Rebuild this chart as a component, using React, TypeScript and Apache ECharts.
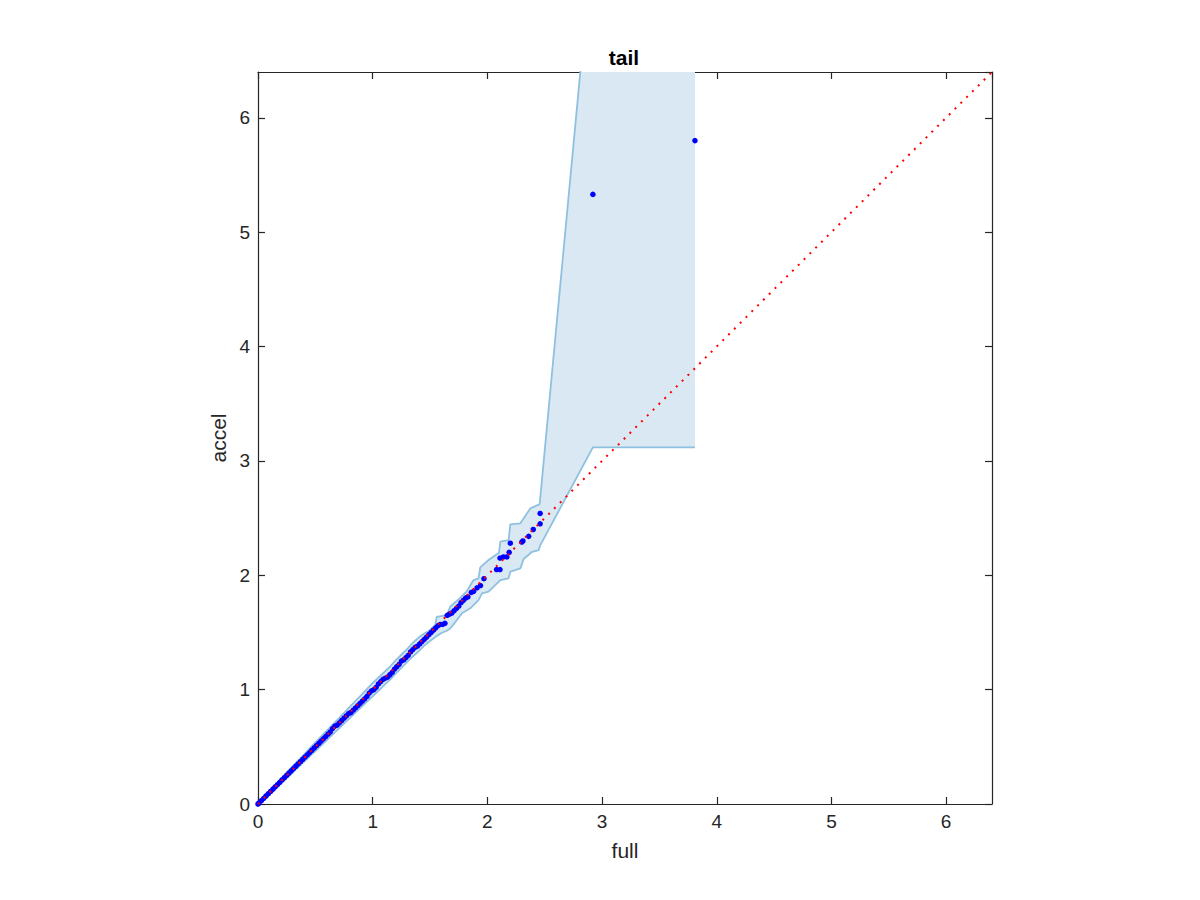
import React, { useEffect, useRef } from "react";
import * as echarts from "echarts";

const titleText = "tail";
const xName = "full";
const yName = "accel";
const axisMax = 6.4;
const tickStep = 1;

// Quantile pairs (full, accel)
const fullQ = [
  0, 0.01, 0.03, 0.05, 0.07, 0.09, 0.11, 0.13, 0.15, 0.17, 0.19, 0.21, 0.23, 0.25, 0.27, 0.29,
  0.31, 0.33, 0.35, 0.37, 0.39, 0.41, 0.43, 0.45, 0.47, 0.49, 0.51, 0.53, 0.55, 0.57, 0.59,
  0.61, 0.63, 0.65, 0.67, 0.69, 0.71, 0.73, 0.75, 0.77, 0.79, 0.81, 0.83, 0.85, 0.87, 0.89,
  0.91, 0.93, 0.95, 0.97, 0.99, 1.01, 1.03, 1.05, 1.07, 1.09, 1.11, 1.13, 1.15, 1.17, 1.19,
  1.21, 1.23, 1.25, 1.27, 1.29, 1.31, 1.33, 1.35, 1.37, 1.39, 1.41, 1.43, 1.45, 1.47, 1.49,
  1.51, 1.53, 1.55, 1.57, 1.59, 1.61, 1.63, 1.65, 1.67, 1.69, 1.71, 1.73, 1.75, 1.77, 1.79,
  1.81, 1.83, 1.86, 1.88, 1.91, 1.94, 1.97, 2.08, 2.11, 2.11, 2.14, 2.17, 2.19, 2.2, 2.3,
  2.31, 2.36, 2.4, 2.46, 2.46, 2.92, 3.81,
];
const accelQ = [
  0, 0.01, 0.03, 0.05, 0.07, 0.09, 0.11, 0.13, 0.15, 0.17, 0.19, 0.21, 0.23, 0.25, 0.27, 0.29,
  0.31, 0.33, 0.35, 0.37, 0.39, 0.41, 0.43, 0.45, 0.47, 0.49, 0.51, 0.53, 0.55, 0.57, 0.59,
  0.61, 0.63, 0.66, 0.68, 0.69, 0.71, 0.73, 0.75, 0.77, 0.79, 0.8, 0.82, 0.84, 0.86, 0.88,
  0.9, 0.92, 0.94, 0.97, 0.99, 1.0, 1.02, 1.05, 1.07, 1.09, 1.1, 1.11, 1.13, 1.15, 1.18,
  1.2, 1.22, 1.25, 1.26, 1.28, 1.3, 1.33, 1.35, 1.37, 1.38, 1.4, 1.42, 1.44, 1.46, 1.48,
  1.5, 1.52, 1.54, 1.56, 1.57, 1.57, 1.58, 1.65, 1.66, 1.67, 1.69, 1.71, 1.73, 1.76, 1.78,
  1.8, 1.81, 1.85, 1.86, 1.89, 1.91, 1.97, 2.05, 2.05, 2.15, 2.16, 2.16, 2.2, 2.28, 2.29,
  2.3, 2.34, 2.4, 2.45, 2.54, 5.33, 5.8,
];

// Confidence band boundaries
const upperX = [
  0, 0.1, 0.2, 0.3, 0.4, 0.5, 0.6, 0.7, 0.8, 0.9, 1.0, 1.05, 1.1, 1.15, 1.2, 1.25, 1.3, 1.35,
  1.4, 1.45, 1.486, 1.545, 1.559, 1.647, 1.676, 1.75, 1.82, 1.879, 1.923, 1.938, 2.01, 2.101,
  2.113, 2.185, 2.2, 2.288, 2.375, 2.456, 2.92, 3.81,
];
const upperY = [
  0, 0.118, 0.222, 0.328, 0.432, 0.538, 0.642, 0.745, 0.85, 0.952, 1.058, 1.105, 1.152, 1.2,
  1.255, 1.305, 1.355, 1.41, 1.455, 1.49, 1.51, 1.565, 1.637, 1.652, 1.725, 1.79, 1.86, 1.958,
  1.973, 2.069, 2.133, 2.197, 2.293, 2.308, 2.445, 2.454, 2.585, 2.622, 7.57, 9.5,
];
const lowerX = [
  0, 0.1, 0.2, 0.3, 0.4, 0.5, 0.6, 0.7, 0.8, 0.9, 1.0, 1.05, 1.1, 1.15, 1.2, 1.25, 1.3, 1.35,
  1.4, 1.45, 1.5, 1.56, 1.6, 1.647, 1.676, 1.734, 1.778, 1.851, 1.923, 1.953, 2.01, 2.113,
  2.185, 2.2, 2.288, 2.316, 2.39, 2.448, 2.462, 2.92, 3.81,
];
const lowerY = [
  0, 0.082, 0.178, 0.272, 0.368, 0.462, 0.558, 0.655, 0.75, 0.848, 0.942, 0.99, 1.04, 1.085,
  1.14, 1.19, 1.24, 1.29, 1.335, 1.385, 1.425, 1.47, 1.495, 1.515, 1.534, 1.608, 1.667, 1.711,
  1.783, 1.842, 1.856, 1.958, 1.973, 2.031, 2.06, 2.142, 2.205, 2.22, 2.264, 3.118, 3.118,
];

const refX = [0, axisMax];
const refY = [0, axisMax];

const FONT = "'Liberation Sans', Arial, Helvetica, sans-serif";
const AX = "#262626";

export default function App() {
  const ref = useRef<HTMLDivElement>(null);
  useEffect(() => {
    if (!ref.current) return;
    const chart = echarts.init(ref.current, undefined, { renderer: "svg" });
    const upper = upperX.map((x, i) => [x, upperY[i]]);
    const lower = lowerX.map((x, i) => [x, lowerY[i]]);
    const pts = fullQ.map((x, i) => [x, accelQ[i]]);
    const ref45 = refX.map((x, i) => [x, refY[i]]);

    const baseAxis = {
      min: 0,
      max: axisMax,
      interval: tickStep,
      type: "value" as const,
      splitLine: { show: false },
      axisLine: { show: true, onZero: false, lineStyle: { color: AX, width: 1.2 } },
      axisTick: { show: true, inside: true, length: 7, lineStyle: { color: AX, width: 1.2 } },
    };

    chart.setOption({
      animation: false,
      backgroundColor: "#ffffff",
      title: {
        text: titleText,
        left: 619,
        textAlign: "center",
        top: 42,
        textStyle: { fontFamily: FONT, fontSize: 21, fontWeight: "bold", color: "#000" },
      },
      grid: { left: 258, top: 72, width: 734, height: 732 },
      xAxis: [
        {
          ...baseAxis,
          position: "bottom",
          name: xName,
          nameLocation: "middle",
          nameGap: 36,
          nameTextStyle: { fontFamily: FONT, fontSize: 21, color: AX },
          axisLabel: {
            show: true,
            margin: 8,
            showMaxLabel: false,
            fontFamily: FONT,
            fontSize: 19,
            color: AX,
          },
        },
        {
          ...baseAxis,
          position: "top",
          axisLabel: { show: false },
        },
      ],
      yAxis: [
        {
          ...baseAxis,
          position: "left",
          name: yName,
          nameLocation: "middle",
          nameGap: 21,
          nameTextStyle: { fontFamily: FONT, fontSize: 21, color: AX },
          axisLabel: {
            show: true,
            margin: 8,
            showMaxLabel: false,
            fontFamily: FONT,
            fontSize: 19,
            color: AX,
          },
        },
        {
          ...baseAxis,
          position: "right",
          axisLabel: { show: false },
        },
      ],
      series: [
        {
          type: "custom",
          clip: true,
          silent: true,
          z: 1,
          data: [[0, 0]],
          renderItem: (params: any, api: any) => {
            const poly = upper
              .map((p) => api.coord(p))
              .concat(lower.slice().reverse().map((p) => api.coord(p)));
            return {
              type: "polygon",
              shape: { points: poly },
              style: { fill: "#d9e8f3", stroke: "none" },
            };
          },
        },
        {
          type: "line",
          data: upper,
          symbol: "none",
          z: 2,
          lineStyle: { color: "#8fc0e0", width: 1.8 },
        },
        {
          type: "line",
          data: lower,
          symbol: "none",
          z: 2,
          lineStyle: { color: "#8fc0e0", width: 1.8 },
        },
        {
          type: "scatter",
          data: pts,
          symbol: "circle",
          symbolSize: 5.5,
          z: 3,
          itemStyle: { color: "#0000ff", opacity: 1 },
        },
        {
          type: "line",
          data: ref45,
          symbol: "none",
          z: 4,
          lineStyle: { color: "#ff0000", width: 2, type: [2, 6.2] },
        },
      ],
    });
    return () => chart.dispose();
  }, []);
  return (
    <div
      ref={ref}
      style={{ position: "fixed", left: 0, top: 0, width: 1200, height: 900, background: "#fff" }}
    />
  );
}
